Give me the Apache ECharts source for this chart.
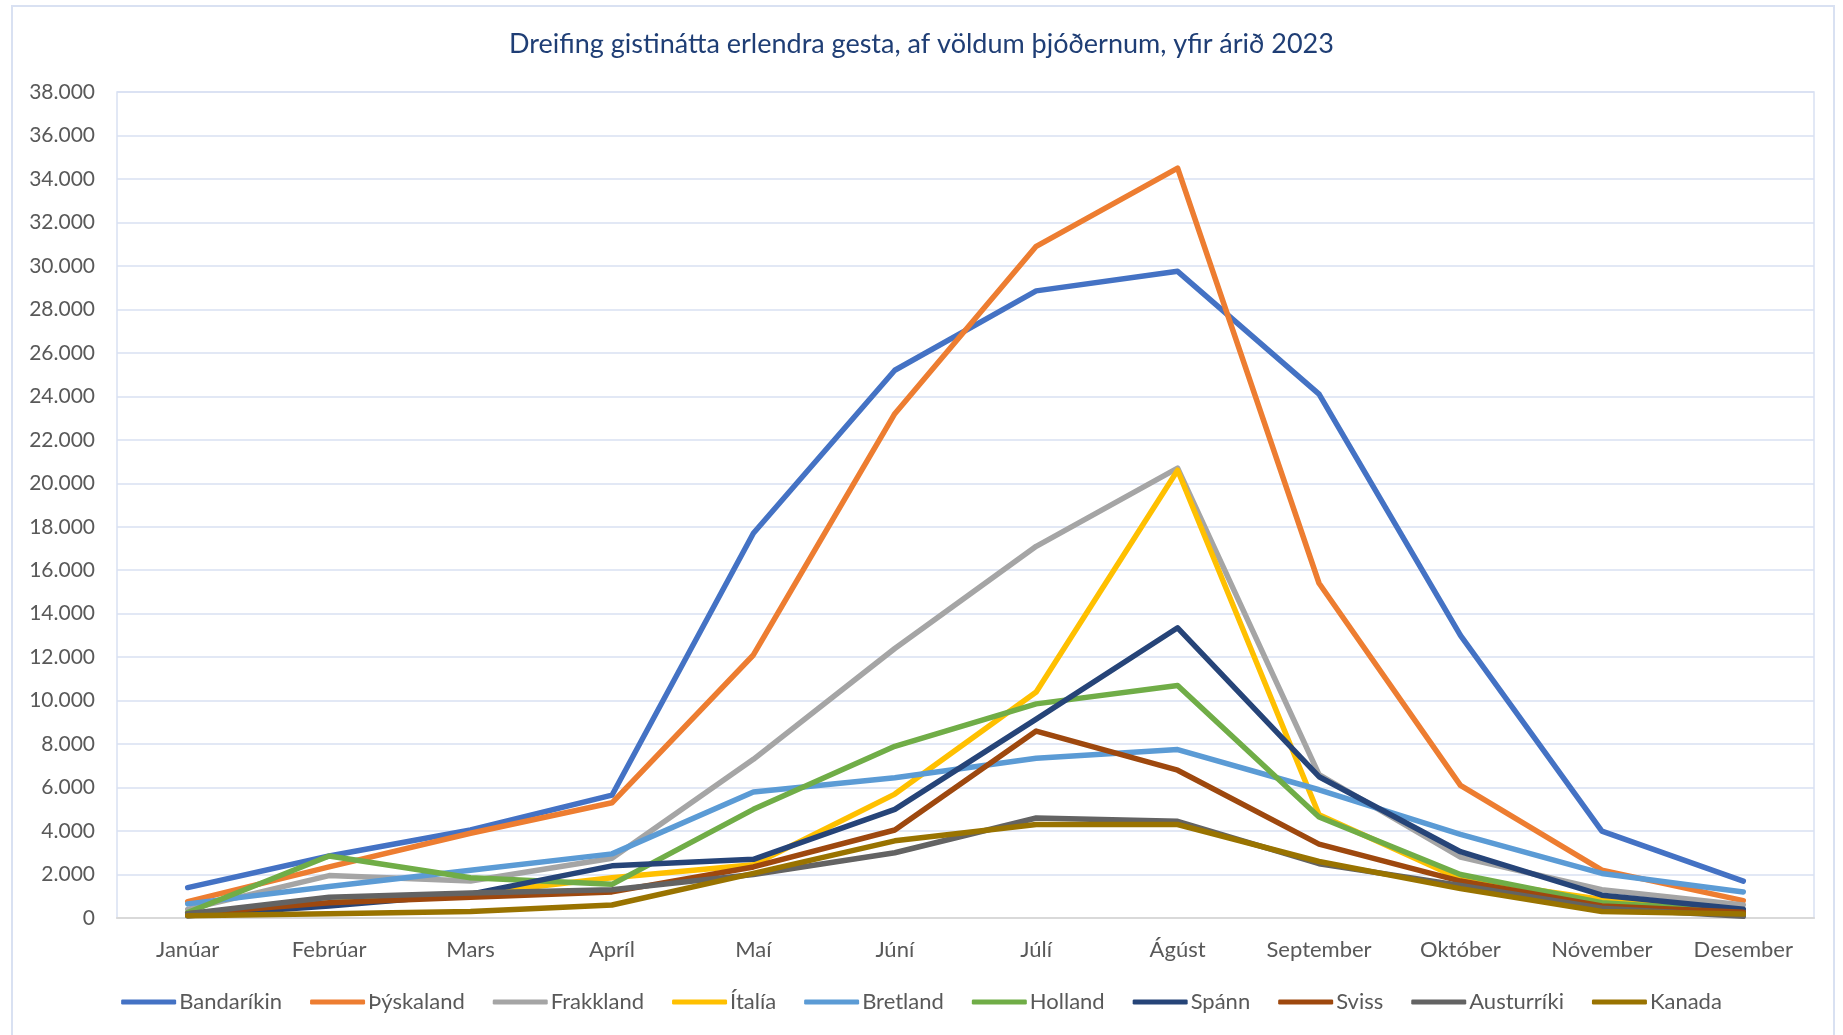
<!DOCTYPE html>
<html>
<head>
<meta charset="utf-8">
<script src="https://cdn.jsdelivr.net/npm/echarts@6/dist/echarts.min.js"></script>
<style>
html,body{margin:0;padding:0;background:#fff;}
#c{width:1843px;height:1035px;}
</style>
</head>
<body>
<div id="c"></div>
<script>
const titleText = 'Dreifing gistinátta erlendra gesta, af völdum þjóðernum, yfir árið 2023';
const months = ['Janúar','Febrúar','Mars','Apríl','Maí','Júní','Júlí','Ágúst','September','Október','Nóvember','Desember'];
const seriesNames = ['Bandaríkin','Þýskaland','Frakkland','Ítalía','Bretland','Holland','Spánn','Sviss','Austurríki','Kanada'];
const bandarikin = [1400, 2850, 4050, 5650, 17700, 25200, 28850, 29750, 24100, 13000, 4000, 1700];
const thyskaland = [750, 2350, 3900, 5300, 12100, 23200, 30900, 34500, 15400, 6100, 2200, 800];
const frakkland = [400, 1950, 1700, 2750, 7300, 12400, 17100, 20700, 6600, 2800, 1300, 600];
const italia = [150, 700, 1100, 1850, 2450, 5700, 10400, 20600, 4750, 1800, 850, 370];
const bretland = [650, 1450, 2200, 2950, 5800, 6450, 7350, 7750, 5900, 3850, 2050, 1200];
const holland = [250, 2850, 1850, 1550, 5000, 7900, 9850, 10700, 4650, 2000, 700, 300];
const spann = [100, 550, 1100, 2400, 2700, 5000, 9150, 13350, 6500, 3050, 1050, 400];
const sviss = [200, 700, 950, 1200, 2350, 4050, 8600, 6800, 3400, 1700, 550, 260];
const austurriki = [200, 950, 1150, 1300, 2000, 3000, 4600, 4450, 2500, 1500, 450, 80];
const kanada = [100, 200, 300, 600, 2050, 3550, 4300, 4300, 2600, 1350, 300, 180];
const yMin = 0, yMax = 38000, yStep = 2000;

const allData = [bandarikin, thyskaland, frakkland, italia, bretland, holland, spann, sviss, austurriki, kanada];
const colors = ['#4472C4','#ED7D31','#A5A5A5','#FFC000','#5B9BD5','#70AD47','#264478','#9E480E','#636363','#997300'];
const FONT = 'Lato';

function fmt(v){ return String(v).replace(/\B(?=(\d{3})+(?!\d))/g, '.'); }

const chart = echarts.init(document.getElementById('c'));
chart.setOption({
  backgroundColor: '#ffffff',
  animation: false,
  color: colors,
  title: {
    text: titleText, left: 'center', top: 26,
    textStyle: { color: '#1F3E75', fontSize: 27, fontWeight: 'normal', fontFamily: FONT }
  },
  graphic: [{
    type: 'rect', shape: { x: 12, y: 6, width: 1822, height: 1040 },
    style: { fill: 'none', stroke: '#D9E1F2', lineWidth: 2 }, silent: true, z: -1
  }],
  legend: {
    data: seriesNames, bottom: 17, left: 'center',
    icon: 'roundRect', itemWidth: 55, itemHeight: 5, itemGap: 28,
    textStyle: { color: '#595959', fontSize: 22, fontFamily: FONT, padding: [0,0,0,-2] }
  },
  grid: { left: 117, right: 29, top: 92, bottom: 117, show: true, borderColor: '#D9E1F2', borderWidth: 1.5 },
  xAxis: {
    type: 'category', data: months, boundaryGap: true,
    axisTick: { show: false },
    axisLine: { lineStyle: { color: '#D9D9D9', width: 2 } },
    axisLabel: { color: '#595959', fontSize: 22, fontFamily: FONT, margin: 21 }
  },
  yAxis: {
    type: 'value', min: yMin, max: yMax, interval: yStep,
    axisLine: { show: false }, axisTick: { show: false },
    splitLine: { lineStyle: { color: '#D9E1F2', width: 1.5 } },
    axisLabel: { color: '#595959', fontSize: 21, fontFamily: FONT, margin: 22, formatter: fmt }
  },
  series: seriesNames.map((n, i) => ({
    name: n, type: 'line', data: allData[i], showSymbol: false, symbol: 'none',
    lineStyle: { width: 5.5, color: colors[i], cap: 'round', join: 'round' },
    itemStyle: { color: colors[i] }
  }))
});
</script>
</body>
</html>
